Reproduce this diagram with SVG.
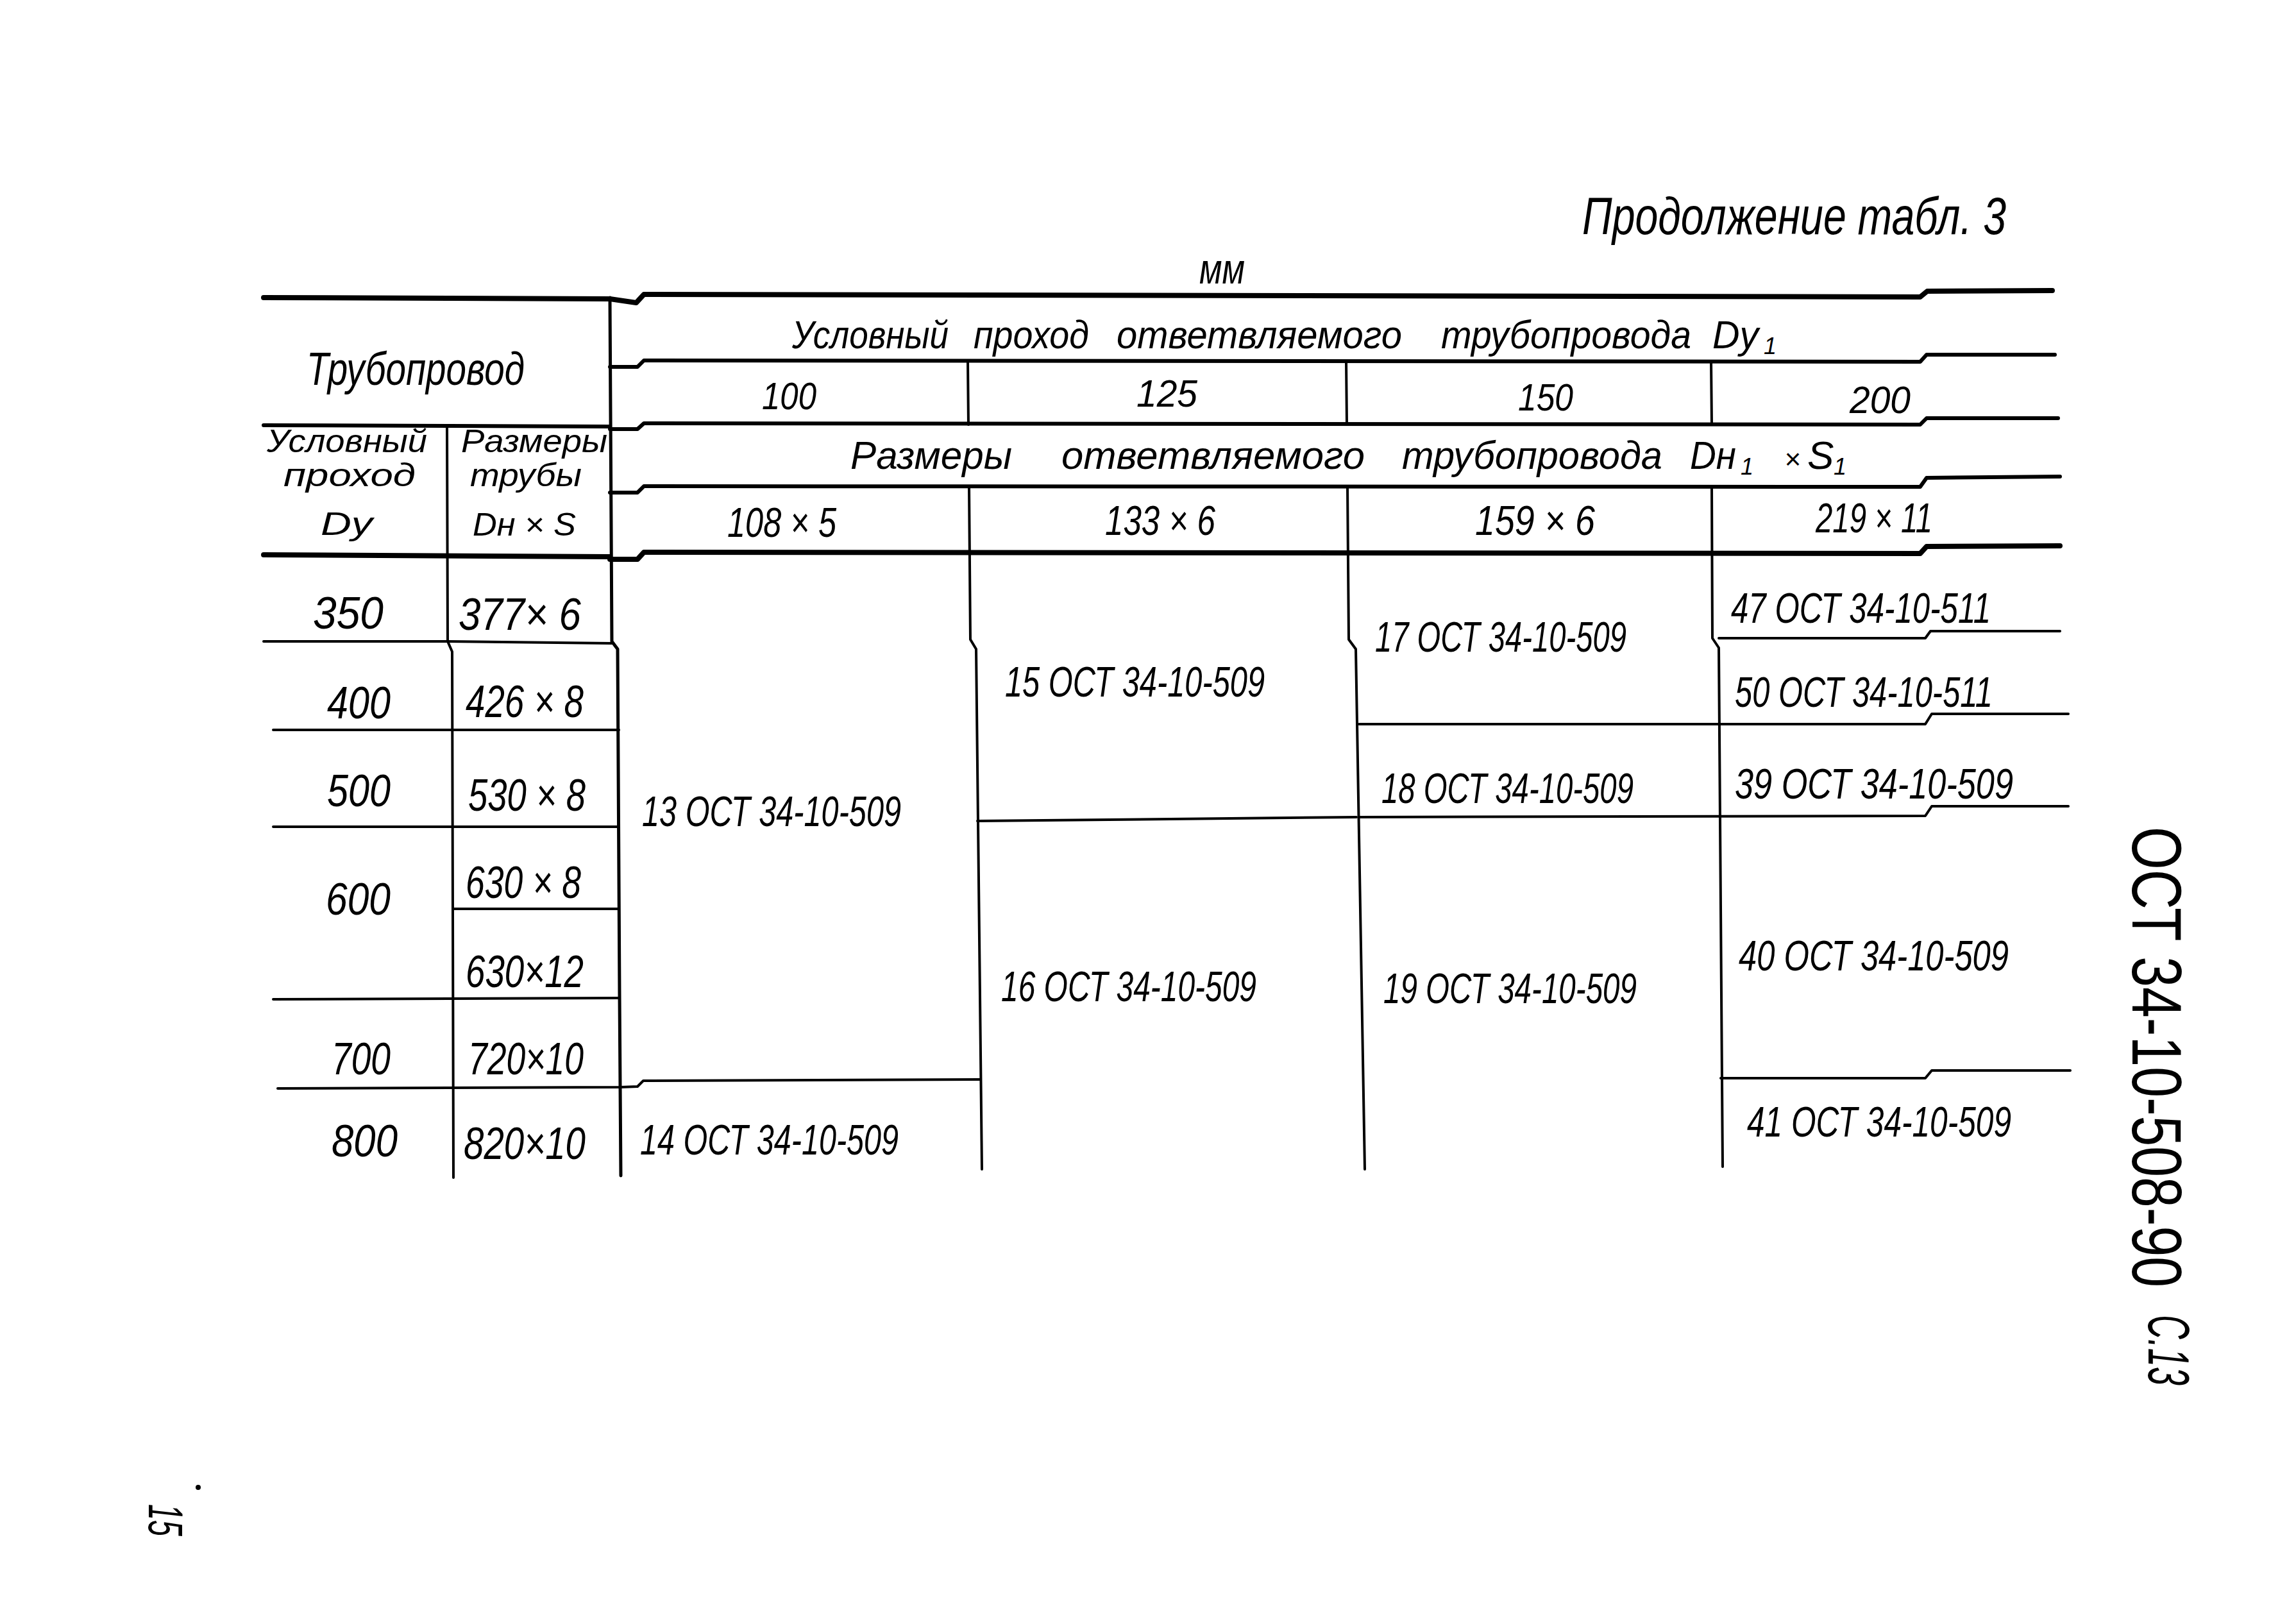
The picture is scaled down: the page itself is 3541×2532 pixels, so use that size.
<svg xmlns="http://www.w3.org/2000/svg" width="3541" height="2532" viewBox="0 0 3541 2532">
<style>
.t{font-family:"Liberation Sans",Arial,sans-serif;font-style:italic;fill:#000}
.u{font-family:"Liberation Sans",Arial,sans-serif;fill:#000}
.l{fill:none;stroke:#000;stroke-linecap:round;stroke-linejoin:round}
.w8{stroke-width:8}.w6{stroke-width:6}.w5{stroke-width:5}.w4{stroke-width:4}
.b{font-size:70px}.c{font-size:66px}.n{font-size:60px}.s{font-size:50px}
</style>
<rect width="3541" height="2532" fill="#fff"/>

<g id="captions">
  <text id="title" class="t" x="2467" y="365" font-size="82" textLength="661" lengthAdjust="spacingAndGlyphs">Продолжение  табл. 3</text>
  <text id="units" class="t" x="1870" y="442" font-size="66" textLength="71" lengthAdjust="spacingAndGlyphs">мм</text>
  <text id="side-code" class="u" transform="translate(3325,1289) rotate(90)" font-size="110" textLength="718" lengthAdjust="spacingAndGlyphs">ОСТ 34-10-508-90</text>
  <text id="side-page" class="t" transform="translate(3350,2050) rotate(90)" font-size="90" textLength="110" lengthAdjust="spacingAndGlyphs">С.13</text>
  <text id="page-no" class="t" transform="translate(232,2345) rotate(90)" font-size="76" textLength="50" lengthAdjust="spacingAndGlyphs">15</text>
  <circle cx="309" cy="2319" r="4" fill="#000"/>
</g>

<g id="connectors">
  <path class="l w8" d="M411,464 L951,466 L992,472 L1004,459 L2994,463 L3005,454 L3200,453"/>
  <path class="l w6" d="M951,572 L994,572 L1004,562 L2994,564 L3004,553 L3204,553"/>
  <path class="l w6" d="M411,663 L951,665"/>
  <path class="l w6" d="M951,669 L994,669 L1004,660 L2994,662 L3004,652 L3209,652"/>
  <path class="l w6" d="M951,768 L994,768 L1004,758 L2994,759 L3004,745 L3212,743"/>
  <path class="l w8" d="M411,865 L951,868"/>
  <path class="l w8" d="M951,872 L994,872 L1004,861 L2994,863 L3004,852 L3212,851"/>

  <path class="l w5" d="M951,464 L954,1000 L963,1012 L966,1550 L968,1833"/>
  <path class="l w4" d="M697,663 L698,1000 L705,1016 L707,1836"/>
  <path class="l w4" d="M1509,562 L1510,662"/>
  <path class="l w4" d="M1511,758 L1513,997 L1522,1012 L1531,1823"/>
  <path class="l w4" d="M2099,564 L2100,662"/>
  <path class="l w4" d="M2101,759 L2103,997 L2114,1012 L2128,1823"/>
  <path class="l w4" d="M2668,564 L2669,662"/>
  <path class="l w4" d="M2669,759 L2670,995 L2680,1010 L2686,1819"/>

  <path class="l w4" d="M411,1000 L697,1000 L954,1003"/>
  <path class="l w4" d="M426,1138 L965,1138"/>
  <path class="l w4" d="M426,1289 L965,1289"/>
  <path class="l w4" d="M707,1417 L965,1417"/>
  <path class="l w4" d="M426,1558 L965,1556"/>
  <path class="l w4" d="M433,1697 L968,1695 L994,1694 L1003,1685 L1528,1683"/>
  <path class="l w4" d="M1524,1280 L2115,1274"/>
  <path class="l w4" d="M2119,1129 L3002,1129 L3012,1113 L3225,1113"/>
  <path class="l w4" d="M2119,1274 L3002,1272 L3012,1257 L3225,1257"/>
  <path class="l w4" d="M2680,995 L3002,995 L3010,984 L3212,984"/>
  <path class="l w4" d="M2683,1681 L3002,1681 L3012,1669 L3228,1669"/>
</g>

<g id="head-pipeline">
  <text class="t" x="478" y="600" font-size="72" textLength="340" lengthAdjust="spacingAndGlyphs">Трубопровод</text>
</g>
<g id="head-dy">
  <text class="t s"><tspan x="416" y="705" textLength="250" lengthAdjust="spacingAndGlyphs">Условный</tspan> <tspan x="442" y="758" textLength="206" lengthAdjust="spacingAndGlyphs">проход</tspan> <tspan x="500" y="834" textLength="81" lengthAdjust="spacingAndGlyphs">Dу</tspan></text>
</g>
<g id="head-size">
  <text class="t s"><tspan x="719" y="705" textLength="228" lengthAdjust="spacingAndGlyphs">Размеры</tspan> <tspan x="733" y="758" textLength="174" lengthAdjust="spacingAndGlyphs">трубы</tspan> <tspan x="737" y="835" textLength="161" lengthAdjust="spacingAndGlyphs">Dн × S</tspan></text>
</g>
<g id="head-dy1">
  <text class="t" font-size="62"><tspan x="1235" y="543" textLength="244" lengthAdjust="spacingAndGlyphs">Условный</tspan> <tspan x="1518" y="543" textLength="180" lengthAdjust="spacingAndGlyphs">проход</tspan> <tspan x="1741" y="543" textLength="445" lengthAdjust="spacingAndGlyphs">ответвляемого</tspan> <tspan x="2247" y="543" textLength="390" lengthAdjust="spacingAndGlyphs">трубопровода</tspan> <tspan x="2670" y="543" textLength="72" lengthAdjust="spacingAndGlyphs">Dу</tspan><tspan x="2750" y="552" font-size="36">1</tspan></text>
</g>
<g id="head-dn1">
  <text class="t" font-size="62"><tspan x="1326" y="731" textLength="252" lengthAdjust="spacingAndGlyphs">Размеры</tspan> <tspan x="1655" y="731" textLength="473" lengthAdjust="spacingAndGlyphs">ответвляемого</tspan> <tspan x="2186" y="731" textLength="406" lengthAdjust="spacingAndGlyphs">трубопровода</tspan> <tspan x="2635" y="731" textLength="72" lengthAdjust="spacingAndGlyphs">Dн</tspan><tspan x="2714" y="740" font-size="36">1</tspan> <tspan x="2782" y="731" font-size="44">×</tspan> <tspan x="2818" y="731">S</tspan><tspan x="2859" y="740" font-size="36">1</tspan></text>
</g>
<g id="head-dy1-values">
  <text class="t n" x="1188" y="638" textLength="85" lengthAdjust="spacingAndGlyphs">100</text>
  <text class="t n" x="1772" y="634" textLength="95" lengthAdjust="spacingAndGlyphs">125</text>
  <text class="t n" x="2367" y="640" textLength="86" lengthAdjust="spacingAndGlyphs">150</text>
  <text class="t n" x="2884" y="644" textLength="95" lengthAdjust="spacingAndGlyphs">200</text>
</g>
<g id="head-dn1-values">
  <text class="t" font-size="64" x="1134" y="837" textLength="170" lengthAdjust="spacingAndGlyphs">108 × 5</text>
  <text class="t" font-size="64" x="1723" y="834" textLength="172" lengthAdjust="spacingAndGlyphs">133 × 6</text>
  <text class="t" font-size="64" x="2300" y="834" textLength="187" lengthAdjust="spacingAndGlyphs">159 × 6</text>
  <text class="t" font-size="64" x="2831" y="830" textLength="182" lengthAdjust="spacingAndGlyphs">219 × 11</text>
</g>

<g id="col-dy">
  <text class="t b" x="488" y="980" textLength="110" lengthAdjust="spacingAndGlyphs">350</text>
  <text class="t b" x="510" y="1120" textLength="99" lengthAdjust="spacingAndGlyphs">400</text>
  <text class="t b" x="510" y="1257" textLength="99" lengthAdjust="spacingAndGlyphs">500</text>
  <text class="t b" x="508" y="1426" textLength="101" lengthAdjust="spacingAndGlyphs">600</text>
  <text class="t b" x="517" y="1675" textLength="92" lengthAdjust="spacingAndGlyphs">700</text>
  <text class="t b" x="517" y="1803" textLength="103" lengthAdjust="spacingAndGlyphs">800</text>
</g>
<g id="col-size">
  <text class="t b" x="715" y="982" textLength="191" lengthAdjust="spacingAndGlyphs">377× 6</text>
  <text class="t b" x="726" y="1118" textLength="184" lengthAdjust="spacingAndGlyphs">426 × 8</text>
  <text class="t b" x="730" y="1264" textLength="183" lengthAdjust="spacingAndGlyphs">530 × 8</text>
  <text class="t b" x="726" y="1400" textLength="180" lengthAdjust="spacingAndGlyphs">630 × 8</text>
  <text class="t b" x="726" y="1539" textLength="184" lengthAdjust="spacingAndGlyphs">630×12</text>
  <text class="t b" x="730" y="1675" textLength="180" lengthAdjust="spacingAndGlyphs">720×10</text>
  <text class="t b" x="723" y="1807" textLength="190" lengthAdjust="spacingAndGlyphs">820×10</text>
</g>
<g id="col-100">
  <text class="t c" x="1001" y="1288" textLength="404" lengthAdjust="spacingAndGlyphs">13 ОСТ 34-10-509</text>
  <text class="t c" x="998" y="1800" textLength="403" lengthAdjust="spacingAndGlyphs">14 ОСТ 34-10-509</text>
</g>
<g id="col-125">
  <text class="t c" x="1567" y="1086" textLength="405" lengthAdjust="spacingAndGlyphs">15 ОСТ 34-10-509</text>
  <text class="t c" x="1561" y="1561" textLength="398" lengthAdjust="spacingAndGlyphs">16 ОСТ 34-10-509</text>
</g>
<g id="col-150">
  <text class="t c" x="2144" y="1016" textLength="392" lengthAdjust="spacingAndGlyphs">17 ОСТ 34-10-509</text>
  <text class="t c" x="2154" y="1252" textLength="393" lengthAdjust="spacingAndGlyphs">18 ОСТ 34-10-509</text>
  <text class="t c" x="2157" y="1564" textLength="395" lengthAdjust="spacingAndGlyphs">19 ОСТ 34-10-509</text>
</g>
<g id="col-200">
  <text class="t c" x="2699" y="971" textLength="405" lengthAdjust="spacingAndGlyphs">47 ОСТ 34-10-511</text>
  <text class="t c" x="2705" y="1102" textLength="402" lengthAdjust="spacingAndGlyphs">50 ОСТ 34-10-511</text>
  <text class="t c" x="2705" y="1245" textLength="434" lengthAdjust="spacingAndGlyphs">39 ОСТ 34-10-509</text>
  <text class="t c" x="2711" y="1513" textLength="421" lengthAdjust="spacingAndGlyphs">40 ОСТ 34-10-509</text>
  <text class="t c" x="2724" y="1772" textLength="412" lengthAdjust="spacingAndGlyphs">41 ОСТ 34-10-509</text>
</g>
</svg>
